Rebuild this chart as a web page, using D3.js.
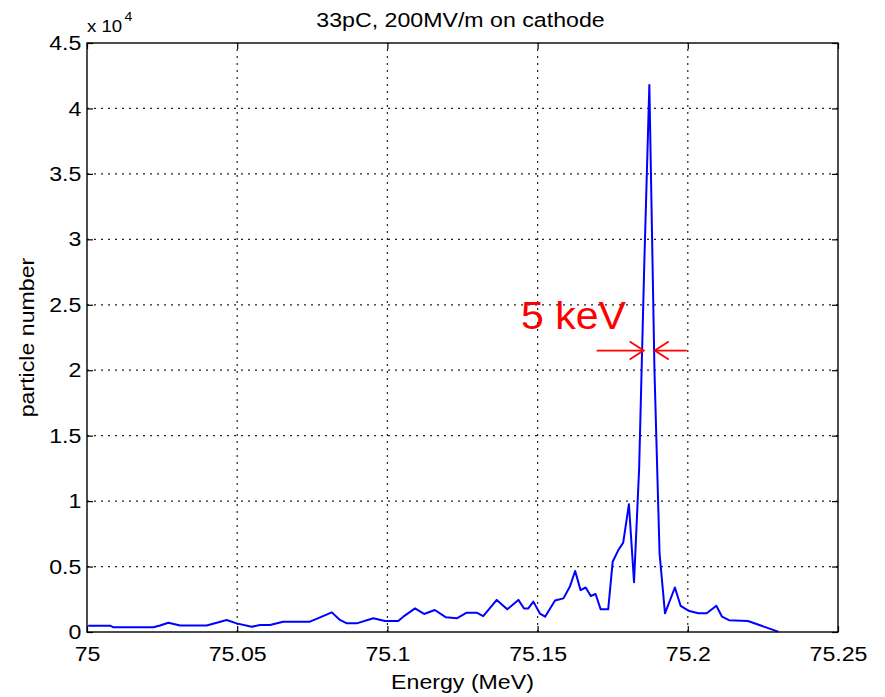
<!DOCTYPE html>
<html>
<head>
<meta charset="utf-8">
<script src="https://cdn.jsdelivr.net/npm/d3@7"></script>
<style>
  body { margin: 0; background: #fff; }
  svg { display: block; }
  text { font-family: "Liberation Sans", Arial, sans-serif; }
</style>
</head>
<body>
<script>
// Energy spectrum (MeV) and particle counts per bin
const energy = [
  75.0004, 75.0077, 75.0088, 75.0221, 75.0243, 75.0271, 75.0310, 75.0398, 75.0432, 75.0465,
  75.0498, 75.0548, 75.0576, 75.0609, 75.0653, 75.0742, 75.0776, 75.0815, 75.0842, 75.0865,
  75.0898, 75.0953, 75.0992, 75.1036, 75.1053, 75.1092, 75.1122, 75.1158, 75.1195, 75.1231,
  75.1264, 75.1297, 75.1319, 75.1364, 75.1399, 75.1436, 75.1455, 75.1469, 75.1486, 75.1508,
  75.1525, 75.1558, 75.1586, 75.1608, 75.1625, 75.1643, 75.1660, 75.1677, 75.1693, 75.1710,
  75.1735, 75.1750, 75.1769, 75.1785, 75.1804, 75.1821, 75.1838, 75.1855, 75.1872, 75.1889,
  75.1906, 75.1924, 75.1957, 75.1976, 75.2002, 75.2035, 75.2063, 75.2095, 75.2114, 75.2137,
  75.2200, 75.2301
];
const particles = [
  480, 480, 360, 360, 500, 710, 500, 500, 710, 920,
  660, 400, 530, 530, 790, 790, 1120, 1500, 920, 660,
  660, 1050, 840, 840, 1170, 1800, 1380, 1680, 1120, 1050,
  1480, 1480, 1220, 2450, 1730, 2450, 1800, 1800, 2320, 1400,
  1170, 2400, 2570, 3500, 4660, 3200, 3400, 2750, 2900, 1730,
  1730, 5370, 6270, 6830, 9760, 3800, 12500, 28000, 41800, 20000,
  6000, 1430, 3400, 2000, 1630, 1430, 1430, 2000, 1170, 900,
  840, 30
];
const xTicks = [75, 75.05, 75.1, 75.15, 75.2, 75.25];
const yTicks = [0, 0.5, 1, 1.5, 2, 2.5, 3, 3.5, 4, 4.5];
const yScaleExp = 1e4;

// FWHM annotation
const fwhmLabel = "5 keV";
const fwhmLeft = 75.1853;
const fwhmRight = 75.1890;
const halfMax = 2.15;

const W = 885, H = 697;
const margin = { left: 87, right: 885 - 838, top: 43, bottom: 697 - 632 };
const stretch = 1.13; // horizontal widening of the label glyphs

const svg = d3.select("body").append("svg").attr("width", W).attr("height", H);

const x = d3.scaleLinear().domain([75, 75.25]).range([margin.left, W - margin.right]);
const y = d3.scaleLinear().domain([0, 4.5]).range([H - margin.bottom, margin.top]);

const x0 = x.range()[0], x1 = x.range()[1], y0 = y.range()[0], y1 = y.range()[1];

// dotted grid
const grid = svg.append("g").attr("stroke", "#222").attr("stroke-width", 1.2)
  .attr("stroke-dasharray", "2,5");
grid.selectAll("line.vx").data(xTicks.slice(1, -1)).join("line")
  .attr("x1", d => x(d)).attr("x2", d => x(d)).attr("y1", y0).attr("y2", y1);
grid.selectAll("line.hy").data(yTicks.slice(1, -1)).join("line")
  .attr("x1", x0).attr("x2", x1).attr("y1", d => y(d)).attr("y2", d => y(d));

// spectrum line
const line = d3.line().x((d, i) => x(energy[i])).y(d => y(d / yScaleExp));
svg.append("path").datum(particles)
  .attr("fill", "none").attr("stroke", "#0000ff").attr("stroke-width", 2)
  .attr("stroke-linejoin", "round").attr("d", line);

// axes with inward ticks on all sides
const tickLen = 6;
const axisStyle = g => {
  g.select(".domain").remove();
  g.selectAll(".tick line").attr("stroke", "#000").attr("stroke-width", 1.2);
  g.selectAll(".tick text").attr("fill", "#000").attr("font-size", 20.5)
    .attr("font-family", "Liberation Sans, Arial, sans-serif")
    .attr("transform", `scale(${stretch},1)`);
};
svg.append("g").attr("transform", `translate(0,${y0})`)
  .call(d3.axisBottom(x).tickValues(xTicks).tickFormat(d3.format("")).tickSizeInner(-tickLen).tickPadding(14))
  .call(axisStyle);
svg.append("g").attr("transform", `translate(0,${y1})`)
  .call(d3.axisTop(x).tickValues(xTicks).tickFormat("").tickSizeInner(-tickLen))
  .call(axisStyle);
svg.append("g").attr("transform", `translate(${x0},0)`)
  .call(d3.axisLeft(y).tickValues(yTicks).tickFormat(d3.format("")).tickSizeInner(-tickLen).tickPadding(5))
  .call(axisStyle);
svg.append("g").attr("transform", `translate(${x1},0)`)
  .call(d3.axisRight(y).tickValues(yTicks).tickFormat("").tickSizeInner(-tickLen))
  .call(axisStyle);

// frame
svg.append("rect").attr("x", x0).attr("y", y1).attr("width", x1 - x0).attr("height", y0 - y1)
  .attr("fill", "none").attr("stroke", "#000").attr("stroke-width", 1.4);

// exponent label
const expo = svg.append("text").attr("transform", `translate(${x0},32) scale(${stretch},1)`)
  .attr("font-size", 16.5).attr("fill", "#000");
expo.append("tspan").text("x 10");
expo.append("tspan").attr("font-size", 12.5).attr("dx", 2).attr("dy", -11).text("4");

// title and axis labels
svg.append("text").attr("transform", `translate(${(x0 + x1) / 2 - 2},27) scale(${stretch},1)`)
  .attr("text-anchor", "middle").attr("font-size", 20.5).attr("fill", "#000")
  .text("33pC, 200MV/m on cathode");
svg.append("text").attr("transform", `translate(${(x0 + x1) / 2},689) scale(${stretch},1)`)
  .attr("text-anchor", "middle").attr("font-size", 20.5).attr("fill", "#000").text("Energy (MeV)");
svg.append("text").attr("transform", `translate(34,${(y0 + y1) / 2}) rotate(-90) scale(${stretch},1)`)
  .attr("text-anchor", "middle").attr("font-size", 20.5).attr("fill", "#000").text("particle number");

// FWHM arrows and label
const red = "#ff0000";
const ay = y(halfMax);
const arrows = svg.append("g").attr("stroke", red).attr("stroke-width", 1.8).attr("fill", "none");
arrows.append("line").attr("x1", x(fwhmLeft) - 47).attr("x2", x(fwhmLeft)).attr("y1", ay).attr("y2", ay);
arrows.append("path").attr("d", `M${x(fwhmLeft) - 14},${ay - 9} L${x(fwhmLeft)},${ay} L${x(fwhmLeft) - 14},${ay + 9}`);
arrows.append("line").attr("x1", x(fwhmRight)).attr("x2", x(fwhmRight) + 32).attr("y1", ay).attr("y2", ay);
arrows.append("path").attr("d", `M${x(fwhmRight) + 14},${ay - 9} L${x(fwhmRight)},${ay} L${x(fwhmRight) + 14},${ay + 9}`);
svg.append("text").attr("x", 521).attr("y", 329).attr("font-size", 39).attr("fill", red)
  .attr("font-family", "Open Sans, Liberation Sans, sans-serif")
  .attr("textLength", 105).attr("lengthAdjust", "spacingAndGlyphs").text(fwhmLabel);
</script>
</body>
</html>
